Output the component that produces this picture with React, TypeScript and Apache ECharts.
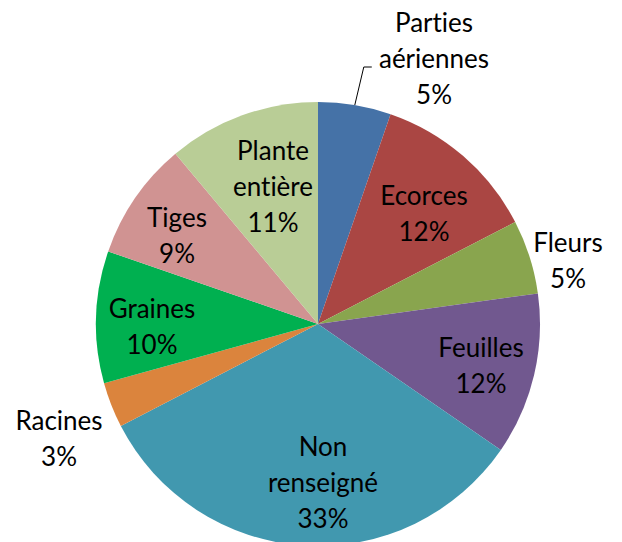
import React, { useEffect, useRef } from "react";
import * as echarts from "echarts";

const categories = [
  "Parties aériennes",
  "Ecorces",
  "Fleurs",
  "Feuilles",
  "Non renseigné",
  "Racines",
  "Graines",
  "Tiges",
  "Plante entière",
];
const values = [5.3, 12.1, 5.4, 11.8, 32.8, 3.3, 9.6, 8.6, 11.1];
const colors = [
  "#4572A7",
  "#AA4643",
  "#89A54E",
  "#71588F",
  "#4198AF",
  "#DB843D",
  "#00B050",
  "#D09392",
  "#B9CD96",
];

// layout / style constants
const CX = 318;
const CY = 324;
const R = 222;
// label block centres, as offsets from the pie centre
const labelOffsets: [number, number][] = [
  [116, -266],
  [106, -111],
  [250, -64],
  [163, 41],
  [5, 158],
  [-259, 114],
  [-166, 2],
  [-141, -89],
  [-45, -138],
];
const outsideIdx = [0, 2, 5];

export default function App() {
  const ref = useRef<HTMLDivElement>(null);
  useEffect(() => {
    if (!ref.current) return;
    const chart = echarts.init(ref.current, undefined, { renderer: "svg" });
    const total = values.reduce((a, b) => a + b, 0);
    const midAngle = (i: number) => {
      let s = 0;
      for (let k = 0; k < i; k++) s += values[k];
      return ((s + values[i] / 2) / total) * Math.PI * 2;
    };
    chart.setOption({
      animation: false,
      backgroundColor: "#ffffff",
      series: [
        {
          type: "pie",
          center: [CX, CY],
          radius: [0, R],
          startAngle: 90,
          clockwise: true,
          avoidLabelOverlap: false,
          silent: true,
          itemStyle: { borderWidth: 0 },
          label: {
            show: true,
            position: "inside",
            fontFamily: "Lato",
            fontSize: 26,
            lineHeight: 36,
            color: "#000000",
            align: "center",
            formatter: (p: any) =>
              `${String(p.name).replace(/ /g, "\n")}\n${Math.round(p.percent)}%`,
          },
          labelLine: { show: false },
          labelLayout: (p: any) => {
            const i = p.dataIndex;
            const [dx, dy] = labelOffsets[i];
            const out: any = {
              x: CX + dx,
              y: CY + dy,
              align: "center",
              verticalAlign: "middle",
            };
            if (i === 0) {
              const a = midAngle(i);
              const sx = CX + R * Math.sin(a);
              const sy = CY - R * Math.cos(a);
              out.labelLinePoints = [
                [sx, sy],
                [sx + 9, CY - 257],
                [sx + 17, CY - 257],
              ];
            }
            return out;
          },
          data: categories.map((name, i) => ({
            name,
            value: values[i],
            itemStyle: { color: colors[i] },
            label: { position: outsideIdx.includes(i) ? "outside" : "inside" },
            labelLine:
              i === 0
                ? { show: true, length: 30, length2: 8, lineStyle: { color: "#000", width: 1 } }
                : { show: false },
          })),
        },
      ],
    });
    return () => chart.dispose();
  }, []);
  return (
    <>
      <style>{`#pie-chart text { font-variant-ligatures: none; font-feature-settings: "liga" 0, "clig" 0; }`}</style>
      <div
        id="pie-chart"
        ref={ref}
        style={{ position: "fixed", left: 0, top: 0, width: 622, height: 542 }}
      />
    </>
  );
}
